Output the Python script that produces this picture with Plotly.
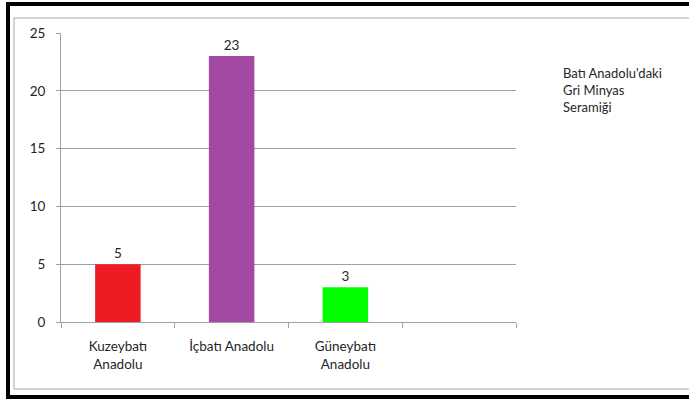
import plotly.graph_objects as go

# data
categories = ["Kuzeybatı<br>Anadolu", "İçbatı Anadolu", "Güneybatı<br>Anadolu", " "]
counts = [5, 23, 3, None]
bar_colors = ["#ED1C24", "#A349A4", "#00FF00", "#FFFFFF"]
value_labels = ["5", "23", "3", ""]
legend_text = "Batı Anadolu'daki<br>Gri Minyas<br>Seramiği"

W, H = 689, 402
L, R, T, B = 61, 173, 33, 80
PW, PH = W - L - R, H - T - B


def px(x):
    return (x - L) / PW


def py(y):
    return (H - B - y) / PH


FONT = "Lato, 'Open Sans', sans-serif"
GRID = "#A0A0A0"
TXT = "#262626"

fig = go.Figure(go.Bar(
    x=categories, y=counts,
    marker=dict(color=bar_colors, line=dict(width=0)),
    width=0.4,
    text=value_labels, textposition="outside", cliponaxis=False,
    textfont=dict(family=FONT, size=13.5, color=TXT),
    showlegend=False,
))

fig.update_xaxes(
    type="category", categoryorder="array", categoryarray=categories,
    range=[-0.5, 3.5], tickson="boundaries",
    ticks="outside", ticklen=5, tickcolor=GRID, tickwidth=1,
    showline=True, linecolor=GRID, linewidth=1,
    showgrid=False, zeroline=False,
    ticklabelstandoff=12,
    tickfont=dict(family=FONT, size=13.5, color=TXT),
)
fig.update_yaxes(
    range=[0, 25], dtick=5,
    ticks="outside", ticklen=4, tickcolor=GRID, tickwidth=1,
    showline=True, linecolor=GRID, linewidth=1,
    showgrid=True, gridcolor=GRID, gridwidth=1, zeroline=False,
    ticklabelstandoff=8,
    tickfont=dict(family=FONT, size=13.5, color=TXT),
)

shapes = [
    # outer black frame (open on the right, cropped)
    dict(type="rect", xref="paper", yref="paper",
         x0=px(8), x1=px(700), y0=py(397), y1=py(4),
         line=dict(color="#000000", width=4), layer="above"),
    # inner light gray frame
    dict(type="rect", xref="paper", yref="paper",
         x0=px(14), x1=px(700), y0=py(389), y1=py(18),
         line=dict(color="#C8C8C8", width=1.5), layer="above"),
]

fig.add_annotation(
    text=legend_text, xref="paper", yref="paper",
    x=px(561), y=py(63), xanchor="left", yanchor="top",
    align="left", showarrow=False,
    font=dict(family=FONT, size=13, color=TXT),
)

fig.update_layout(
    width=W, height=H,
    margin=dict(l=L, r=R, t=T, b=B),
    paper_bgcolor="white", plot_bgcolor="white",
    shapes=shapes, bargap=0.6,
)

fig.write_html("out.html", config={"displayModeBar": False},
               post_script="document.body.style.margin='0';document.body.style.overflow='hidden';")
